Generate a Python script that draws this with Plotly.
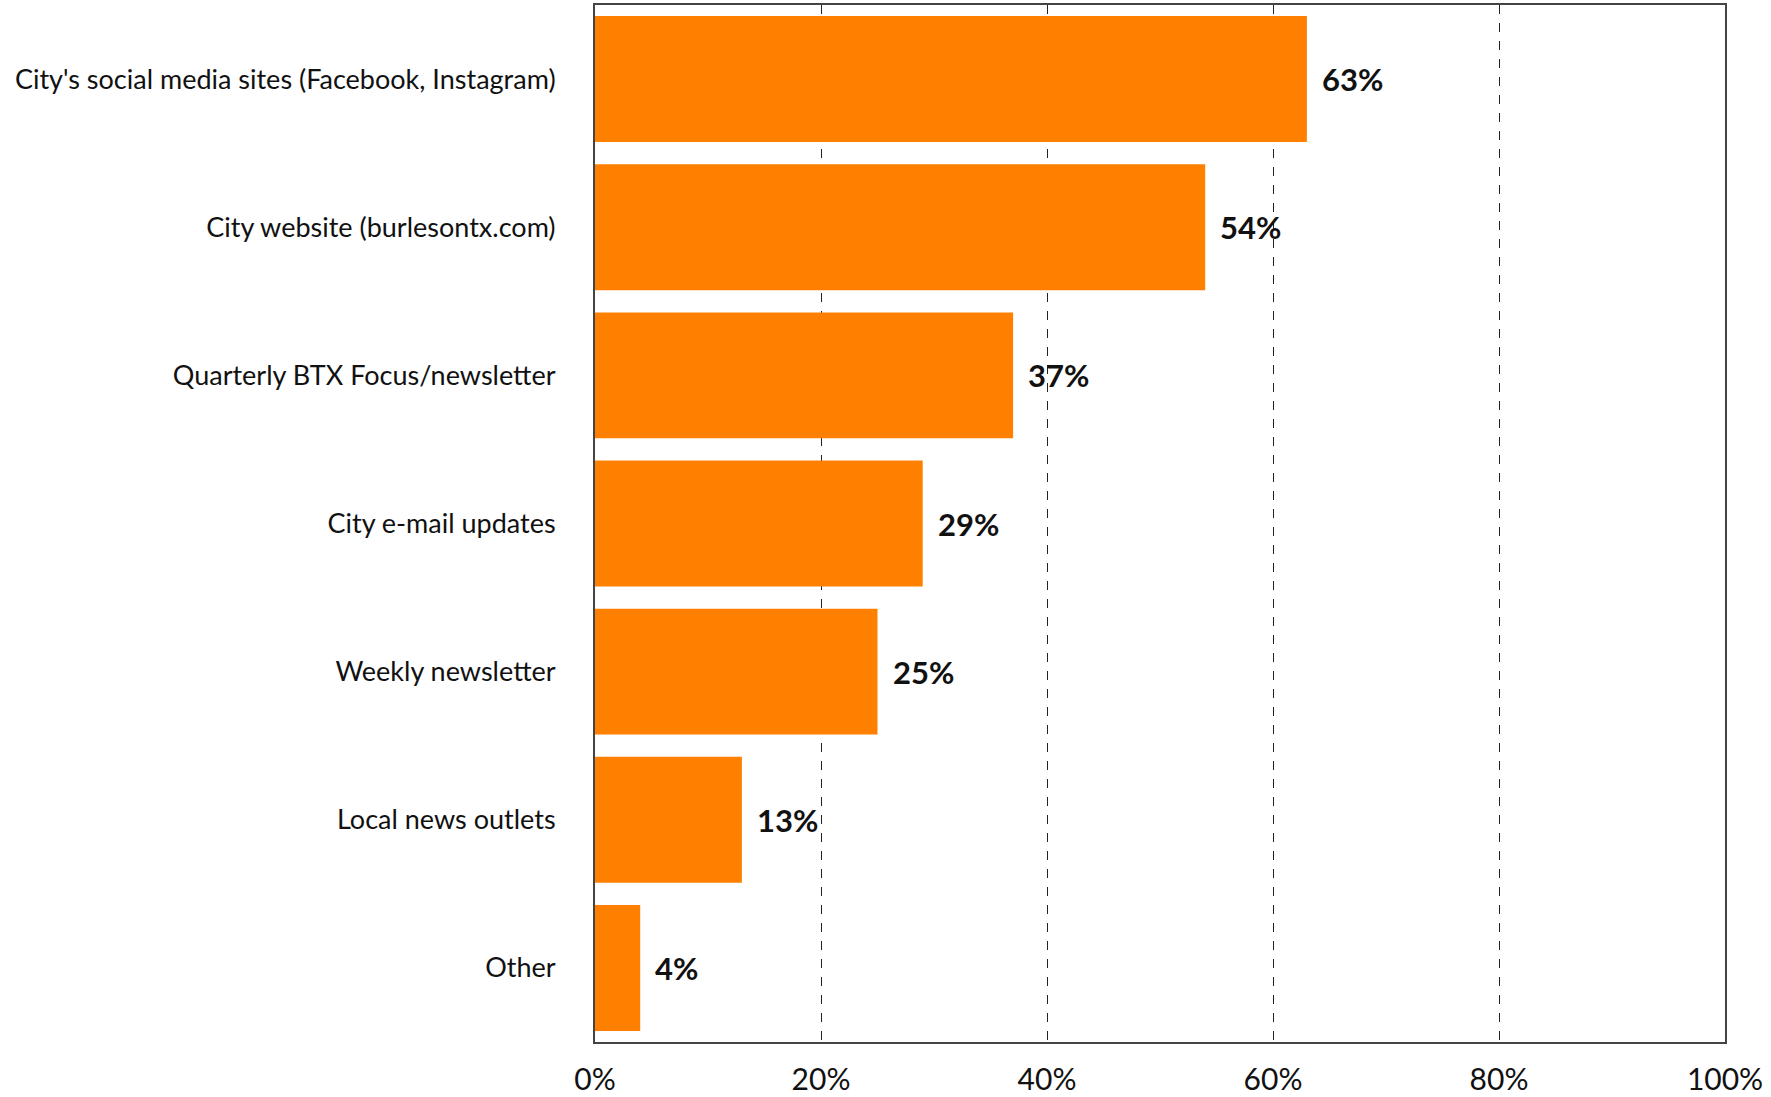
import plotly.graph_objects as go

# Survey responses: where residents get city information
categories = [
    "City's social media sites (Facebook, Instagram)",
    "City website (burlesontx.com)",
    "Quarterly BTX Focus/newsletter",
    "City e-mail updates",
    "Weekly newsletter",
    "Local news outlets",
    "Other",
]
shares = [63, 54, 37, 29, 25, 13, 4]
x_ticks = [0, 20, 40, 60, 80, 100]
x_tick_labels = ["0%", "20%", "40%", "60%", "80%", "100%"]

FONT = "Lato, 'Open Sans', sans-serif"
BAR_COLOR = "#FF8000"

fig = go.Figure()
fig.add_trace(go.Bar(
    x=shares,
    y=categories,
    orientation="h",
    marker=dict(color=BAR_COLOR, line=dict(width=0)),
    hoverinfo="skip",
))

# bold value labels just past the end of each bar
for cat, val in zip(categories, shares):
    fig.add_annotation(
        x=val, y=cat, text=f"<b>{val}%</b>", showarrow=False,
        xanchor="left", yanchor="middle", xshift=13,
        font=dict(family=FONT, size=31, color="#111111"),
    )

fig.update_layout(
    width=1771, height=1097,
    margin=dict(l=595, r=46, t=5, b=55),
    paper_bgcolor="white", plot_bgcolor="white",
    showlegend=False,
    bargap=0.15,
    font=dict(family=FONT, color="#111111"),
)
fig.update_xaxes(
    range=[0, 100],
    tickvals=x_ticks, ticktext=x_tick_labels,
    tickfont=dict(size=30, family=FONT, color="#111111"),
    showgrid=True, gridcolor="#222222", griddash="dash", gridwidth=1.2,
    zeroline=False,
    showline=True, linecolor="#444444", linewidth=2, mirror=True,
    ticks="", ticklabelstandoff=10, automargin=False,
)
fig.update_yaxes(
    categoryorder="array", categoryarray=categories[::-1],
    tickfont=dict(size=27, family=FONT, color="#111111"),
    showgrid=False, zeroline=False,
    showline=True, linecolor="#444444", linewidth=2, mirror=True,
    ticks="", ticklabelstandoff=32, automargin=False,
)

fig.write_html("out.html")
